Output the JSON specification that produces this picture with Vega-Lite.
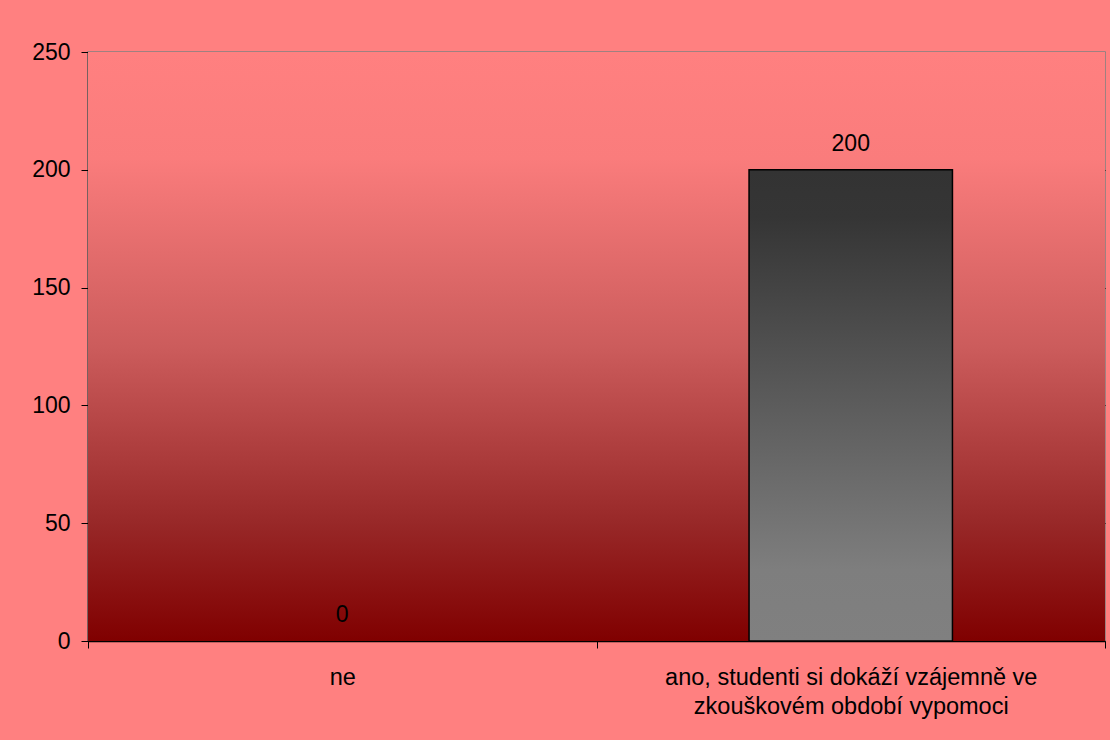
{
  "$schema": "https://vega.github.io/schema/vega-lite/v6.json",
  "autosize": {"type": "none"},
  "width": 1017,
  "height": 589,
  "padding": {"left": 88, "top": 52, "right": 5, "bottom": 99},
  "background": "#FF8080",
  "config": {
    "font": "Liberation Sans",
    "view": {"stroke": "#808080", "strokeWidth": 1.5}
  },
  "data": {
    "values": [
      {"odpoved": "ne", "pocet": 0},
      {"odpoved": "ano, studenti si dokáží vzájemně ve\nzkouškovém období vypomoci", "pocet": 200}
    ]
  },
  "encoding": {
    "x": {
      "field": "odpoved",
      "type": "nominal",
      "sort": null,
      "scale": {"paddingInner": 0, "paddingOuter": 0},
      "axis": {
        "title": null,
        "labelAngle": 0,
        "labelExpr": "split(datum.label, '\\n')",
        "labelFontSize": 23.5,
        "labelColor": "#000000",
        "labelLineHeight": 29,
        "labelPadding": 17,
        "labelLimit": 600,
        "tickBand": "extent",
        "tickSize": 7,
        "tickColor": "#000000",
        "domainColor": "#000000",
        "domainWidth": 1.5
      }
    }
  },
  "layer": [
    {
      "mark": {
        "type": "rect",
        "color": {
          "gradient": "linear",
          "x1": 0, "y1": 0, "x2": 0, "y2": 1,
          "stops": [
            {"offset": 0, "color": "#FF8080"},
            {"offset": 0.18, "color": "#FA7C7C"},
            {"offset": 0.5, "color": "#CC5C5C"},
            {"offset": 0.8, "color": "#982828"},
            {"offset": 1, "color": "#800000"}
          ]
        }
      },
      "encoding": {
        "x": null,
        "y": {"datum": 250, "type": "quantitative"},
        "y2": {"datum": 0}
      }
    },
    {
      "mark": {
        "type": "bar",
        "width": {"band": 0.4},
        "stroke": "#000000",
        "strokeWidth": 1.5,
        "color": {
          "gradient": "linear",
          "x1": 0, "y1": 0, "x2": 0, "y2": 1,
          "stops": [
            {"offset": 0, "color": "#333333"},
            {"offset": 0.1, "color": "#353535"},
            {"offset": 0.85, "color": "#7E7E7E"},
            {"offset": 1, "color": "#808080"}
          ]
        }
      },
      "encoding": {
        "y": {
          "field": "pocet",
          "type": "quantitative",
          "scale": {"domain": [0, 250], "nice": false},
          "axis": {
            "title": null,
            "values": [0, 50, 100, 150, 200, 250],
            "labelFontSize": 23,
            "labelColor": "#000000",
            "labelPadding": 11,
            "tickSize": 7,
            "tickColor": "#000000",
            "domainColor": "#000000",
            "domainWidth": 1.5,
            "grid": true,
            "gridColor": {"condition": {"test": "datum.value === 250", "value": "#808080"}, "value": "#000000"},
            "gridWidth": 1.2
          }
        },
        "strokeOpacity": {"condition": {"test": "datum.pocet > 0", "value": 1}, "value": 0}
      }
    },
    {
      "mark": {"type": "text", "fontSize": 23, "color": "#000000", "baseline": "middle", "dy": -26},
      "encoding": {
        "y": {"field": "pocet", "type": "quantitative"},
        "text": {"field": "pocet", "type": "quantitative"}
      }
    }
  ]
}
